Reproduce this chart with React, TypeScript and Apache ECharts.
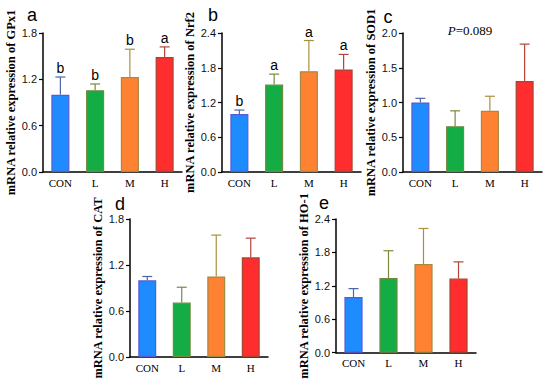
import React, { useEffect, useRef } from "react";
import * as echarts from "echarts";

const categories = ["CON", "L", "M", "H"];

const gpx1Mean = [1.0, 1.06, 1.23, 1.49];
const gpx1Upper = [1.23, 1.14, 1.59, 1.62];
const gpx1Letters = ["b", "b", "b", "a"];

const nrf2Mean = [1.0, 1.51, 1.74, 1.77];
const nrf2Upper = [1.07, 1.69, 2.27, 2.03];
const nrf2Letters = ["b", "a", "a", "a"];

const sod1Mean = [1.0, 0.66, 0.88, 1.31];
const sod1Upper = [1.06, 0.88, 1.09, 1.84];

const catMean = [1.0, 0.71, 1.05, 1.3];
const catUpper = [1.05, 0.91, 1.59, 1.55];

const ho1Mean = [1.0, 1.34, 1.59, 1.33];
const ho1Upper = [1.15, 1.83, 2.23, 1.63];

const fillColors = ["#1e8cff", "#14ad45", "#ff8233", "#ff2d2d"];
const borderColors = ["#5a5ad6", "#6f8a3c", "#a48a42", "#a8452f"];
const errColors = ["#4c66a8", "#7a8a3c", "#a8903f", "#b0453a"];

type Panel = {
  letter: string;
  letterPos: [number, number];
  grid: { left: number; top: number; width: number; height: number };
  max: number;
  interval: number;
  mean: number[];
  upper: number[];
  letters: string[] | null;
  yName: string;
  nameGap: number;
};

const panels: Panel[] = [
  { letter: "a", letterPos: [32, 15], grid: { left: 43, top: 33, width: 139, height: 139 }, max: 1.8, interval: 0.6, mean: gpx1Mean, upper: gpx1Upper, letters: gpx1Letters, yName: "mRNA relative expression of GPx1", nameGap: 26 },
  { letter: "b", letterPos: [213, 15], grid: { left: 222, top: 33, width: 139, height: 139 }, max: 2.4, interval: 0.6, mean: nrf2Mean, upper: nrf2Upper, letters: nrf2Letters, yName: "mRNA relative expression of Nrf2", nameGap: 21 },
  { letter: "c", letterPos: [388, 17], grid: { left: 403, top: 33, width: 139, height: 139 }, max: 2.0, interval: 0.5, mean: sod1Mean, upper: sod1Upper, letters: null, yName: "mRNA relative expression of SOD1", nameGap: 25 },
  { letter: "d", letterPos: [120, 204], grid: { left: 130, top: 219, width: 138, height: 138 }, max: 1.8, interval: 0.6, mean: catMean, upper: catUpper, letters: null, yName: "mRNA relative expression of CAT", nameGap: 22 },
  { letter: "e", letterPos: [324, 203], grid: { left: 336, top: 219, width: 140, height: 138 }, max: 2.4, interval: 0.6, mean: ho1Mean, upper: ho1Upper, letters: null, yName: "mRNA relative expression of HO-1", nameGap: 26 },
];

export default function App() {
  const ref = useRef<HTMLDivElement>(null);
  useEffect(() => {
    if (!ref.current) return;
    const chart = echarts.init(ref.current, undefined, { renderer: "svg" });
    const grids: any[] = [];
    const xAxes: any[] = [];
    const yAxes: any[] = [];
    const series: any[] = [];
    const graphics: any[] = [];
    panels.forEach((p, k) => {
      grids.push({ ...p.grid, containLabel: false });
      xAxes.push({
        type: "category",
        gridIndex: k,
        data: categories,
        axisLine: { lineStyle: { color: "#000", width: 1.5 } },
        axisTick: { alignWithLabel: true, length: 4, lineStyle: { color: "#000", width: 1.2 } },
        axisLabel: { color: "#000", fontFamily: "Liberation Serif", fontSize: 11, margin: 5 },
      });
      yAxes.push({
        type: "value",
        gridIndex: k,
        min: 0,
        max: p.max,
        interval: p.interval,
        name: p.yName,
        nameLocation: "middle",
        nameGap: p.nameGap,
        nameTextStyle: { color: "#000", fontFamily: "Liberation Serif", fontWeight: "bold", fontSize: 12.5 },
        splitLine: { show: false },
        axisLine: { show: true, lineStyle: { color: "#000", width: 1.5 } },
        axisTick: { show: true, length: 4, lineStyle: { color: "#000", width: 1.2 } },
        axisLabel: { color: "#111", fontFamily: "Liberation Sans", fontSize: 11, margin: 6, formatter: (v: number) => v.toFixed(1) },
      });
      series.push({
        type: "bar",
        xAxisIndex: k,
        yAxisIndex: k,
        barWidth: "52%",
        data: p.mean.map((v, i) => ({
          value: v,
          itemStyle: { color: fillColors[i], borderColor: borderColors[i], borderWidth: 1.2 },
        })),
      });
      const mean = p.mean;
      const upper = p.upper;
      const letters = p.letters;
      series.push({
        type: "custom",
        xAxisIndex: k,
        yAxisIndex: k,
        z: 5,
        data: upper.map((v, i) => [i, v]),
        renderItem: (params: any, api: any) => {
          const i = params.dataIndex;
          const base = api.coord([i, mean[i]]);
          const top = api.coord([i, upper[i]]);
          const children: any[] = [
            { type: "line", shape: { x1: base[0], y1: base[1], x2: base[0], y2: top[1] }, style: { stroke: errColors[i], lineWidth: 1.2 } },
            { type: "line", shape: { x1: base[0] - 5, y1: top[1], x2: base[0] + 5, y2: top[1] }, style: { stroke: errColors[i], lineWidth: 1.2 } },
          ];
          if (letters) {
            children.push({
              type: "text",
              x: base[0],
              y: top[1] - 2,
              style: { text: letters[i], fill: "#000", font: "14px 'Liberation Sans'", align: "center", verticalAlign: "bottom" },
            });
          }
          return { type: "group", children };
        },
      });
      graphics.push({
        type: "text",
        x: p.letterPos[0],
        y: p.letterPos[1],
        style: { text: p.letter, fill: "#000", font: "18px 'Liberation Sans'", align: "center", verticalAlign: "middle" },
      });
    });
    graphics.push({
      type: "text",
      x: 470,
      y: 30,
      style: {
        text: "{i|P}=0.089",
        fill: "#000",
        font: "13px 'Liberation Serif'",
        align: "center",
        verticalAlign: "middle",
        rich: { i: { fontStyle: "italic", fontFamily: "Liberation Serif", fontSize: 13 } },
      },
    });
    chart.setOption({
      animation: false,
      backgroundColor: "#fff",
      grid: grids,
      xAxis: xAxes,
      yAxis: yAxes,
      series,
      graphic: graphics,
    });
    return () => chart.dispose();
  }, []);
  return <div ref={ref} style={{ position: "absolute", left: 0, top: 0, width: 550, height: 381 }} />;
}
